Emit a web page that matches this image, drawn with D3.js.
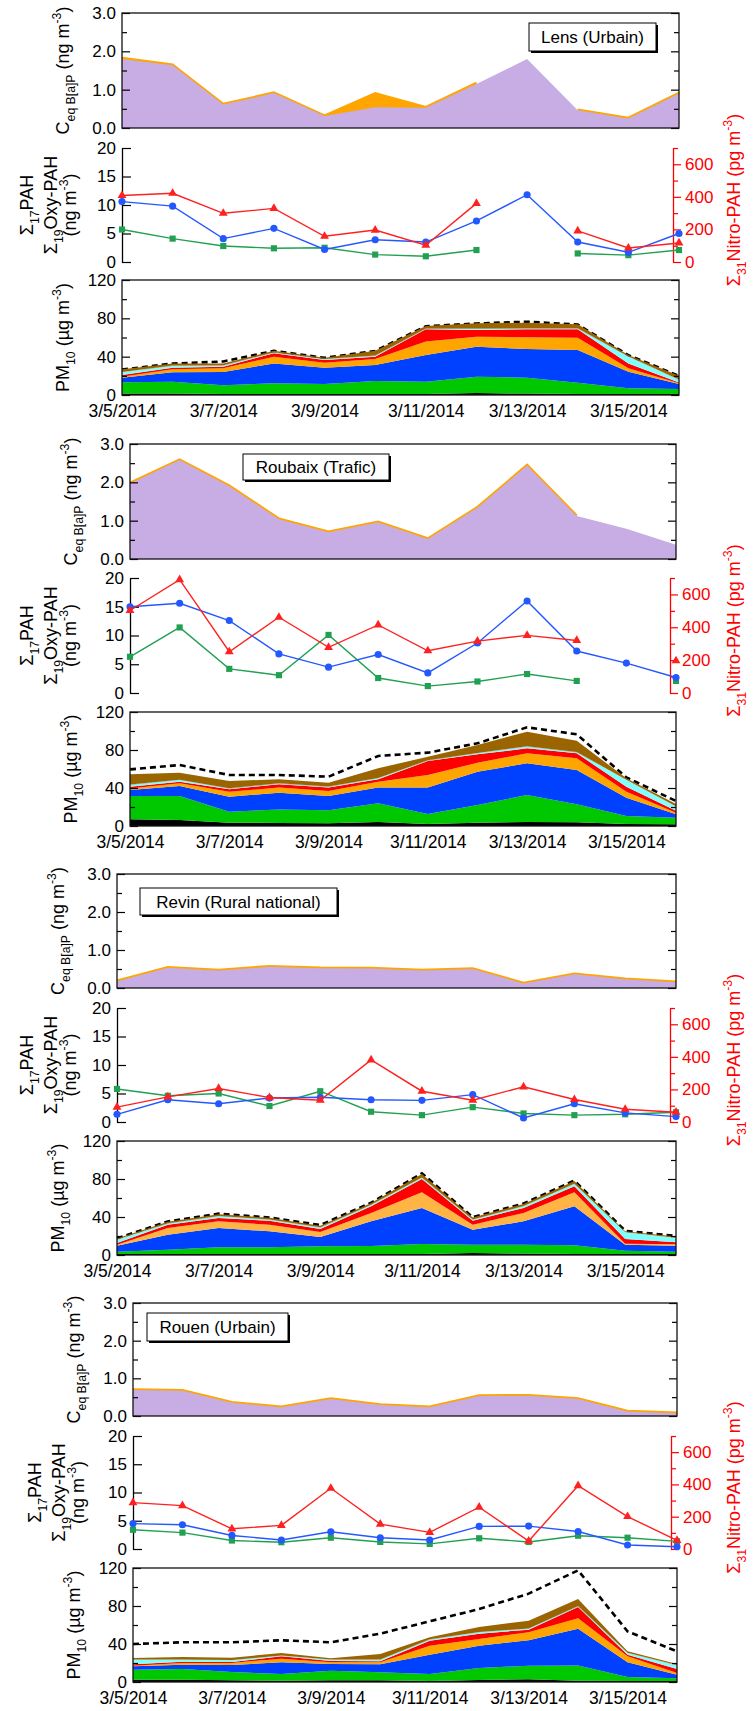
<!DOCTYPE html>
<html>
<head>
<meta charset="utf-8">
<script src="https://cdn.jsdelivr.net/npm/d3@7"></script>
<style>
  body { margin: 0; background: #fff; }
  text { font-family: "Liberation Sans", Arial, Helvetica, sans-serif; }
</style>
</head>
<body>
<svg id="chart" width="755" height="1711"></svg>
<script>
// ---- data ----
var days = ['3/5/2014', '3/6/2014', '3/7/2014', '3/8/2014', '3/9/2014', '3/10/2014',
  '3/11/2014', '3/12/2014', '3/13/2014', '3/14/2014', '3/15/2014', '3/16/2014']
var date_ticks = ['3/5/2014', '3/7/2014', '3/9/2014', '3/11/2014', '3/13/2014', '3/15/2014']
var site_names = ['Lens (Urbain)', 'Roubaix (Trafic)', 'Revin (Rural national)', 'Rouen (Urbain)']

var bap_ticks = [0, 1, 2, 3]
var pah_ticks = [0, 5, 10, 15, 20]
var nitro_ticks = [0, 200, 400, 600]
var pm_ticks = [0, 40, 80, 120]

// C eq B[a]P (ng m-3): orange = all compounds, purple = PAH only
var bap_all_lens = [1.83, 1.66, 0.63, 0.93, 0.33, 0.91, 0.55, 1.18, null, 0.48, 0.27, 0.92]
var bap_pah_lens = [1.80, 1.64, 0.61, 0.91, 0.31, 0.54, 0.53, 1.15, 1.80, 0.46, 0.25, 0.90]
var bap_all_roubaix = [1.99, 2.60, 1.92, 1.06, 0.72, 0.98, 0.54, 1.36, 2.46, 1.14, null, 0.39]
var bap_pah_roubaix = [1.97, 2.58, 1.90, 1.04, 0.70, 0.96, 0.52, 1.34, 2.44, 1.12, 0.79, 0.37]
var bap_all_revin = [0.20, 0.55, 0.48, 0.58, 0.54, 0.53, 0.48, 0.52, 0.14, 0.38, 0.25, 0.17]
var bap_pah_revin = [0.18, 0.53, 0.46, 0.56, 0.52, 0.51, 0.46, 0.50, 0.12, 0.36, 0.23, 0.15]
var bap_all_rouen = [0.71, 0.69, 0.37, 0.25, 0.47, 0.31, 0.25, 0.55, 0.56, 0.47, 0.14, 0.09]
var bap_pah_rouen = [0.69, 0.67, 0.35, 0.23, 0.45, 0.29, 0.23, 0.53, 0.54, 0.45, 0.12, 0.07]

// sum17 PAH, sum19 Oxy-PAH (ng m-3), sum31 Nitro-PAH (pg m-3)
var pah_lens = [10.6, 9.8, 4.1, 5.9, 2.2, 3.9, 3.5, 7.2, 11.8, 3.5, 1.7, 5.0]
var oxy_lens = [5.7, 4.1, 2.8, 2.4, 2.5, 1.3, 1.0, 2.1, null, 1.5, 1.2, 2.1]
var nitro_lens = [408, 422, 299, 329, 158, 196, 103, 360, null, 191, 86, 117]
var pah_roubaix = [15.0, 15.6, 12.6, 6.8, 4.5, 6.7, 3.5, 8.7, 16.0, 7.3, 5.2, 2.7]
var oxy_roubaix = [6.3, 11.4, 4.2, 3.1, 10.1, 2.6, 1.2, 2.0, 3.3, 2.1, null, 2.1]
var nitro_roubaix = [502, 690, 251, 461, 278, 414, 257, 316, 351, 320, null, 196]
var pah_revin = [1.35, 3.9, 3.2, 4.2, 4.35, 3.9, 3.8, 4.8, 0.7, 3.2, 1.6, 0.95]
var oxy_revin = [5.8, 4.6, 5.0, 2.8, 5.4, 1.8, 1.2, 2.6, 1.5, 1.2, 1.35, 1.7]
var nitro_revin = [91, 154, 206, 150, 134, 381, 189, 134, 216, 138, 78, 60]
var pah_rouen = [4.5, 4.3, 2.4, 1.6, 3.05, 2.0, 1.6, 4.0, 4.05, 3.1, 0.7, 0.4]
var oxy_rouen = [3.4, 2.9, 1.5, 1.2, 2.0, 1.25, 0.9, 1.9, 1.25, 2.35, 2.0, 1.35]
var nitro_rouen = [287, 269, 125, 146, 376, 154, 103, 259, 49, 392, 201, 53]

// PM10 contributions (ug m-3), bottom to top
var pm_keys = ['black', 'green', 'blue', 'orange', 'red', 'cyan', 'grey', 'brown']
var pm_lens = [
  [1.5, 1.5, 1, 1, 1, 1, 1, 2, 1.5, 1, 1, 1],
  [11.7, 12.4, 9.1, 11.2, 10.5, 13.6, 12.9, 17.1, 16.6, 11.9, 6.0, 5.3],
  [4.9, 9.8, 13.9, 20.8, 17.0, 16.7, 27.8, 31.3, 29.9, 34.1, 17.3, 5.2],
  [1.0, 3.1, 3.8, 7.0, 5.2, 6.3, 14.0, 10.5, 12.2, 12.8, 3.5, 0.8],
  [1.8, 1.7, 1.8, 3.5, 2.8, 2.4, 12.8, 6.9, 8.3, 8.7, 5.2, 0.7],
  [2.8, 1.8, 1.0, 0.7, 0.7, 0.7, 0.4, 1.1, 0.7, 0.7, 7.0, 2.7],
  [0.4, 0.4, 0.4, 0.4, 0.4, 0.4, 0.4, 0.4, 0.4, 0.4, 0.4, 0.4],
  [2.7, 2.3, 2.0, 1.7, 1.4, 5.2, 2.7, 5.5, 5.9, 4.1, 1.3, 4.1]
]
var pm10_lens = [26.5, 32.8, 35, 46, 38.8, 46, 71.8, 74.6, 76.5, 73.5, 41.5, 20]
var pm_roubaix = [
  [7.0, 6.3, 3.5, 3.2, 2.8, 4.2, 2.1, 3.5, 4.2, 3.9, 2.1, 1.8],
  [24.6, 25.3, 11.6, 14.3, 13.7, 19.7, 10.5, 18.6, 28.4, 18.9, 8.4, 7.0],
  [6.3, 10.5, 15.8, 17.6, 15.1, 16.5, 27.8, 35.1, 33.4, 36.1, 19.3, 3.5],
  [1.7, 2.8, 5.2, 5.3, 5.2, 6.3, 13.3, 9.5, 10.5, 12.3, 6.3, 1.7],
  [1.8, 1.8, 2.5, 3.5, 3.6, 2.4, 14.7, 8.7, 5.3, 5.3, 5.3, 2.1],
  [1.8, 1.7, 0.7, 0.7, 0.7, 1.1, 0.4, 1.1, 1.7, 1.0, 7.0, 4.3],
  [0.4, 0.4, 0.4, 0.4, 0.4, 0.4, 0.4, 0.4, 0.4, 0.4, 0.4, 0.4],
  [10.8, 7.3, 7.7, 4.1, 4.1, 10.1, 3.8, 8.4, 15.4, 11.9, 1.4, 2.4]
]
var pm10_roubaix = [59.6, 64.2, 53.7, 53.7, 51.9, 73.7, 77.2, 87, 103.9, 96.5, 51.2, 26.3]
var pm_revin = [
  [1, 1, 1, 1, 1, 1, 1, 2, 1.5, 1, 1, 1],
  [2.5, 4.6, 7.1, 7.1, 8.1, 8.5, 10.6, 8.9, 9.4, 9.2, 3.6, 2.5],
  [6.3, 15.8, 20.3, 16.8, 9.8, 25.9, 37.9, 15.8, 24.5, 41.0, 6.3, 6.3],
  [1.1, 7.0, 7.0, 7.0, 5.3, 8.8, 16.5, 5.2, 8.8, 14.8, 1.0, 1.4],
  [1.7, 3.5, 3.5, 4.2, 3.2, 7.0, 14.0, 4.2, 5.3, 6.3, 4.9, 2.1],
  [3.5, 1.1, 1.8, 1.1, 1.4, 1.4, 1.4, 1.1, 1.7, 2.4, 7.1, 4.6],
  [0.3, 0.3, 0.3, 0.3, 0.3, 0.3, 0.3, 0.3, 0.3, 0.3, 0.3, 0.3],
  [1.1, 1.8, 1.8, 1.8, 1.8, 1.8, 3.6, 2.1, 2.2, 2.9, 0.7, 1.4]
]
var pm10_revin = [17.5, 35.3, 43.5, 39.5, 31.5, 55, 86, 39.8, 54.2, 78.3, 25.5, 20]
var pm_rouen = [
  [2.5, 2.5, 1.8, 1.4, 1.8, 1.8, 1.1, 2.1, 2.8, 1.4, 1.1, 1.1],
  [10.5, 11.2, 8.7, 7.0, 10.1, 8.4, 7.3, 12.6, 14.4, 16.1, 4.2, 2.8],
  [3.5, 4.5, 7.4, 12.3, 7.0, 8.4, 20.4, 23.5, 26.7, 38.6, 15.4, 3.8],
  [0.7, 1.8, 2.1, 3.9, 1.8, 2.1, 9.4, 7.1, 8.4, 10.9, 6.3, 1.8],
  [1.4, 1.4, 1.1, 2.4, 1.4, 1.1, 5.3, 5.6, 2.8, 12.0, 1.8, 4.2],
  [4.9, 2.1, 1.7, 0.7, 1.4, 1.7, 1.1, 1.4, 1.0, 0.6, 1.7, 3.8],
  [0.3, 0.3, 0.3, 0.3, 0.3, 0.3, 0.3, 0.3, 0.3, 0.3, 0.3, 0.3],
  [1.5, 2.5, 2.5, 2.5, 1.1, 5.7, 2.1, 5.3, 8.2, 7.5, 1.5, 1.1]
]
var pm10_rouen = [40.0, 41.8, 41.8, 43.9, 41.8, 50.9, 63.9, 76.8, 93.0, 117.5, 53.3, 32.3]

// ---- layout (pixels) ----
var layout = [
  {x0: 122, x1: 679, bap: [13, 128], pah: [148, 262], pm: [280, 395], box: [529, 23, 127, 28], pahx: [27, 51, 70], orange: '#ffa500'},
  {x0: 130, x1: 676, bap: [444, 559], pah: [578, 693], pm: [712, 826], box: [243, 454, 146, 26], pahx: [27, 51, 70], orange: '#ffa500'},
  {x0: 117, x1: 676, bap: [874, 988], pah: [1008, 1122], pm: [1141, 1255], box: [140, 888, 197, 27], pahx: [27, 51, 70], orange: '#ffb444'},
  {x0: 133, x1: 677, bap: [1303, 1416], pah: [1436, 1549], pm: [1568, 1682], box: [147, 1313, 141, 28], pahx: [35, 59, 78], orange: '#ffa500'}
]

var pm_colors = {black: '#000000', green: '#00c800', blue: '#0040ff', orange: '#ffa500',
  red: '#ff0000', cyan: '#80ffff', grey: '#9a9a9a', brown: '#9a6500'}
var c_pah = '#2458ff'
var c_oxy = '#22a052'
var c_nitro = '#ff2020'
var tick_font = 17
var title_font = 18

var sites = [
  {name: site_names[0], bap_all: bap_all_lens, bap_pah: bap_pah_lens, pah: pah_lens, oxy: oxy_lens, nitro: nitro_lens, pm: pm_lens, pm10: pm10_lens},
  {name: site_names[1], bap_all: bap_all_roubaix, bap_pah: bap_pah_roubaix, pah: pah_roubaix, oxy: oxy_roubaix, nitro: nitro_roubaix, pm: pm_roubaix, pm10: pm10_roubaix},
  {name: site_names[2], bap_all: bap_all_revin, bap_pah: bap_pah_revin, pah: pah_revin, oxy: oxy_revin, nitro: nitro_revin, pm: pm_revin, pm10: pm10_revin},
  {name: site_names[3], bap_all: bap_all_rouen, bap_pah: bap_pah_rouen, pah: pah_rouen, oxy: oxy_rouen, nitro: nitro_rouen, pm: pm_rouen, pm10: pm10_rouen}
]

var parse = d3.timeParse('%m/%d/%Y')
var dates = days.map(parse)
var tick_dates = date_ticks.map(parse)
var svg = d3.select('#chart')

// text with sub / superscripts, parts = [[text, 'sub'|'sup'|undefined], ...]
function rich_text (parent, parts, size, color) {
  var t = parent.append('text')
    .attr('text-anchor', 'middle')
    .attr('font-size', size)
    .attr('fill', color || '#000')
  var shift = 0
  parts.forEach(function (p) {
    var target = p[1] === 'sub' ? size * 0.3 : (p[1] === 'sup' ? -size * 0.45 : 0)
    t.append('tspan').text(p[0])
      .attr('dy', target - shift)
      .attr('font-size', p[1] ? size * 0.68 : size)
    shift = target
  })
  return t
}

function vertical_label (parts, x, y, size, color) {
  var g = svg.append('g').attr('transform', 'translate(' + (x + size * 0.36) + ',' + y + ') rotate(-90)')
  rich_text(g, parts, size, color)
}

function style_axis (g, color) {
  g.attr('font-size', tick_font).attr('font-family', null).attr('color', color || '#000')
  g.selectAll('line').attr('stroke-width', 1.2)
  g.selectAll('.domain').attr('stroke-width', 1.3)
}

// ticks only: drop the domain path and the empty labels
function bare_ticks (g) {
  g.select('.domain').remove()
  g.selectAll('text').remove()
}

// boxed panel: frame plus mirrored inward ticks
function framed_axes (x0, x1, y, majors, minors, fmt) {
  var left = svg.append('g').attr('transform', 'translate(' + x0 + ',0)')
    .call(d3.axisLeft(y).tickValues(majors).tickFormat(fmt).tickSize(-8).tickPadding(6))
  left.select('.domain').remove()
  style_axis(left)
  var right = svg.append('g').attr('transform', 'translate(' + x1 + ',0)')
    .call(d3.axisRight(y).tickValues(majors).tickSize(-8))
  bare_ticks(right)
  style_axis(right)
  ;[x0, x1].forEach(function (xx, k) {
    var m = svg.append('g').attr('transform', 'translate(' + xx + ',0)')
      .call((k === 0 ? d3.axisLeft(y) : d3.axisRight(y)).tickValues(minors).tickSize(-5))
    bare_ticks(m)
    style_axis(m)
  })
  svg.append('rect')
    .attr('x', x0).attr('y', y.range()[1])
    .attr('width', x1 - x0).attr('height', y.range()[0] - y.range()[1])
    .attr('fill', 'none').attr('stroke', '#111').attr('stroke-width', 1.3)
}

sites.forEach(function (s, i) {
  var L = layout[i]
  var x = d3.scaleTime().domain([dates[0], dates[dates.length - 1]]).range([L.x0, L.x1])

  // --- BaP equivalent panel ---
  var yb = d3.scaleLinear().domain([0, 3]).range([L.bap[1], L.bap[0]])
  function bap_rows (arr) { return arr.map(function (v, j) { return {date: dates[j], v: v} }) }
  var bap_area = d3.area().defined(function (d) { return d.v !== null })
    .x(function (d) { return x(d.date) }).y0(yb(0)).y1(function (d) { return yb(d.v) })
  var bap_line = d3.line().defined(function (d) { return d.v !== null })
    .x(function (d) { return x(d.date) }).y(function (d) { return yb(d.v) })
  svg.append('path').datum(bap_rows(s.bap_all)).attr('d', bap_area).attr('fill', '#ffa500')
  svg.append('path').datum(bap_rows(s.bap_all)).attr('d', bap_line)
    .attr('fill', 'none').attr('stroke', '#ffa500').attr('stroke-width', 2)
  svg.append('path').datum(bap_rows(s.bap_pah)).attr('d', bap_area).attr('fill', '#c8ace4')
  framed_axes(L.x0, L.x1, yb, bap_ticks, [0.5, 1.5, 2.5], d3.format('.1f'))
  vertical_label([['C'], ['eq B[a]P', 'sub'], [' (ng m'], ['-3', 'sup'], [')']],
    L.x0 - 59, (L.bap[0] + L.bap[1]) / 2, title_font)

  // site box with shadow
  var b = L.box
  svg.append('rect').attr('x', b[0] + 2).attr('y', b[1] + 2).attr('width', b[2]).attr('height', b[3]).attr('fill', '#000')
  svg.append('rect').attr('x', b[0]).attr('y', b[1]).attr('width', b[2]).attr('height', b[3])
    .attr('fill', '#fff').attr('stroke', '#000').attr('stroke-width', 1)
  svg.append('text').attr('x', b[0] + b[2] / 2).attr('y', b[1] + b[3] / 2 + 6)
    .attr('text-anchor', 'middle').attr('font-size', 17).text(s.name)

  // --- PAH / Oxy-PAH / Nitro-PAH panel ---
  var yp = d3.scaleLinear().domain([0, 20]).range([L.pah[1], L.pah[0]])
  var yn = d3.scaleLinear().domain([0, 700]).range([L.pah[1], L.pah[0]])
  var left = svg.append('g').attr('transform', 'translate(' + L.x0 + ',0)')
    .call(d3.axisLeft(yp).tickValues(pah_ticks).tickSize(-9).tickSizeOuter(0).tickPadding(6))
  style_axis(left)
  var rx = L.x1 - 6
  var right = svg.append('g').attr('transform', 'translate(' + rx + ',0)')
    .call(d3.axisRight(yn).tickValues(nitro_ticks).tickSize(8).tickSizeOuter(0).tickPadding(4))
  style_axis(right, '#ff0000')
  var rminor = svg.append('g').attr('transform', 'translate(' + rx + ',0)')
    .call(d3.axisRight(yn).tickValues([100, 300, 500, 700]).tickSize(5).tickSizeOuter(0))
  bare_ticks(rminor)
  style_axis(rminor, '#ff0000')

  var series = [
    {vals: s.oxy, y: yp, color: c_oxy, shape: d3.symbolSquare, size: 38},
    {vals: s.pah, y: yp, color: c_pah, shape: d3.symbolCircle, size: 40},
    {vals: s.nitro, y: yn, color: c_nitro, shape: d3.symbolTriangle, size: 34}
  ]
  series.forEach(function (se) {
    var rows = se.vals.map(function (v, j) { return {date: dates[j], v: v} })
    var line = d3.line().defined(function (d) { return d.v !== null })
      .x(function (d) { return x(d.date) }).y(function (d) { return se.y(d.v) })
    svg.append('path').datum(rows).attr('d', line)
      .attr('fill', 'none').attr('stroke', se.color).attr('stroke-width', 1.4)
    svg.append('g').selectAll('path').data(rows.filter(function (d) { return d.v !== null }))
      .enter().append('path')
      .attr('d', d3.symbol().type(se.shape).size(se.size))
      .attr('transform', function (d) { return 'translate(' + x(d.date) + ',' + se.y(d.v) + ')' })
      .attr('fill', se.color)
  })

  var pc = (L.pah[0] + L.pah[1]) / 2
  vertical_label([['\u03a3'], ['17', 'sub'], ['PAH']], L.pahx[0], pc, title_font)
  vertical_label([['\u03a3'], ['19', 'sub'], ['Oxy-PAH']], L.pahx[1], pc, title_font)
  vertical_label([['(ng m'], ['-3', 'sup'], [')']], L.pahx[2], pc, title_font)
  vertical_label([['\u03a3'], ['31', 'sub'], ['Nitro-PAH (pg m'], ['-3', 'sup'], [')']], 734, pc - 5, title_font, '#ff0000')

  // --- PM10 stacked panel ---
  var ym = d3.scaleLinear().domain([0, 120]).range([L.pm[1], L.pm[0]])

  // measured PM10 (dashed) sits behind the stacked contributions
  var pm10_line = d3.line().x(function (d, j) { return x(dates[j]) }).y(function (d) { return ym(d) })
  svg.append('path').datum(s.pm10).attr('d', pm10_line)
    .attr('fill', 'none').attr('stroke', '#000').attr('stroke-width', 2.6)
    .attr('stroke-dasharray', '6,4')

  var rows = dates.map(function (d, j) {
    var o = {date: d}
    pm_keys.forEach(function (k, n) { o[k] = s.pm[n][j] })
    return o
  })
  var stacked = d3.stack().keys(pm_keys)(rows)
  var pm_area = d3.area()
    .x(function (d) { return x(d.data.date) })
    .y0(function (d) { return ym(d[0]) })
    .y1(function (d) { return ym(d[1]) })
  svg.append('g').selectAll('path').data(stacked).enter().append('path')
    .attr('d', pm_area)
    .attr('fill', function (d) { return d.key === 'orange' ? L.orange : pm_colors[d.key] })

  framed_axes(L.x0, L.x1, ym, pm_ticks, [20, 60, 100], d3.format('d'))
  vertical_label([['PM'], ['10', 'sub'], [' (\u00b5g m'], ['-3', 'sup'], [')']],
    L.x0 - 59, (L.pm[0] + L.pm[1]) / 2, title_font)

  var xa = svg.append('g').attr('transform', 'translate(0,' + L.pm[1] + ')')
    .call(d3.axisBottom(x).tickValues(tick_dates).tickFormat(d3.timeFormat('%-m/%-d/%Y')).tickSize(0).tickPadding(10))
  xa.select('.domain').remove()
  style_axis(xa)
  xa.attr('font-size', 17.5)
})
</script>
</body>
</html>
